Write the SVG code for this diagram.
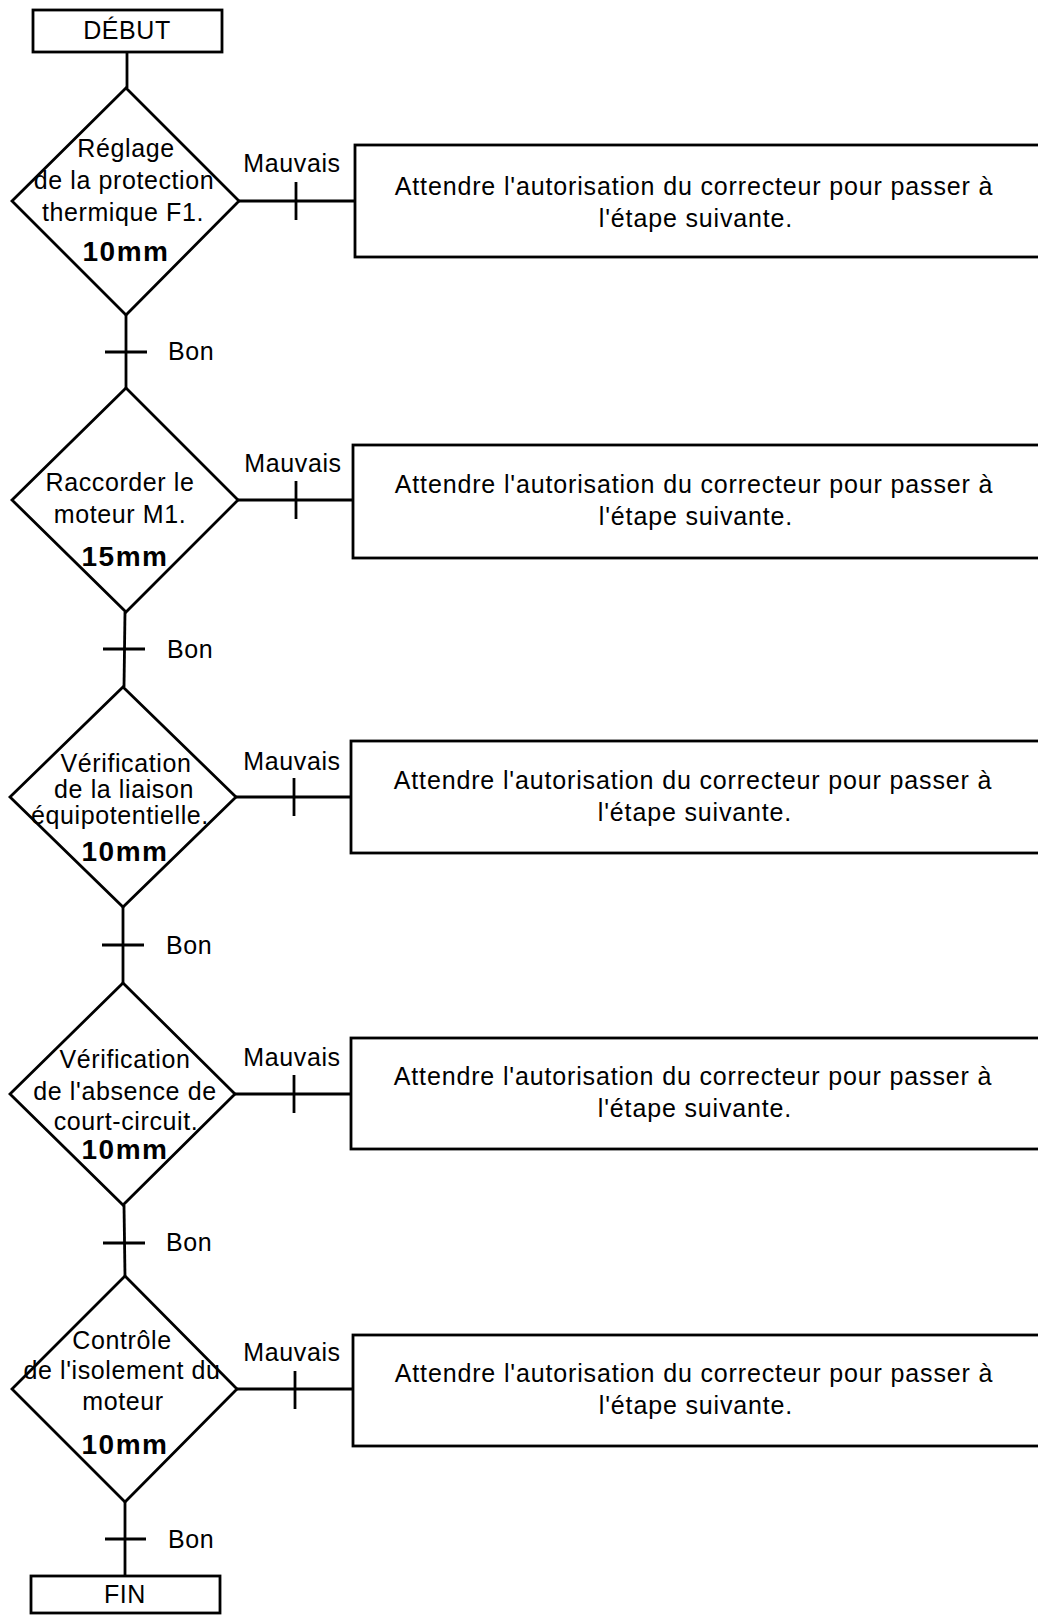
<svg xmlns="http://www.w3.org/2000/svg" width="1038" height="1615" viewBox="0 0 1038 1615">
<style>
.shape{fill:#fff;stroke:#000;stroke-width:2.8}
.ln{fill:none;stroke:#000;stroke-width:2.8}
text{font-family:"Liberation Sans",Arial,Helvetica,sans-serif;font-size:25px;fill:#000;letter-spacing:0.6px}
.c{text-anchor:middle}
.bx{letter-spacing:0.85px}
.mm{font-weight:bold;font-size:28px;letter-spacing:1.5px}
</style>
<rect width="1038" height="1615" fill="#fff"/>
<g id="connectors">
<line class="ln" x1="127" y1="52" x2="127" y2="88"/>
<line class="ln" x1="126" y1="315" x2="126" y2="388"/>
<line class="ln" x1="125" y1="612" x2="124" y2="687"/>
<line class="ln" x1="123" y1="907" x2="123" y2="983"/>
<line class="ln" x1="124" y1="1205" x2="125" y2="1276"/>
<line class="ln" x1="125" y1="1502" x2="125" y2="1576"/>
<line class="ln" x1="105" y1="352" x2="147" y2="352"/>
<line class="ln" x1="103" y1="649" x2="145" y2="649"/>
<line class="ln" x1="102" y1="945" x2="144" y2="945"/>
<line class="ln" x1="103" y1="1243" x2="145" y2="1243"/>
<line class="ln" x1="105" y1="1539" x2="146" y2="1539"/>
<text x="168" y="360">Bon</text>
<text x="167" y="658">Bon</text>
<text x="166" y="954">Bon</text>
<text x="166" y="1251">Bon</text>
<text x="168" y="1548">Bon</text>
<line class="ln" x1="239" y1="201" x2="355" y2="201"/>
<line class="ln" x1="238" y1="500" x2="353" y2="500"/>
<line class="ln" x1="236" y1="797" x2="351" y2="797"/>
<line class="ln" x1="235" y1="1094" x2="351" y2="1094"/>
<line class="ln" x1="237" y1="1389" x2="353" y2="1389"/>
<line class="ln" x1="296" y1="182" x2="296" y2="220"/>
<line class="ln" x1="296" y1="481" x2="296" y2="519"/>
<line class="ln" x1="294" y1="778" x2="294" y2="816"/>
<line class="ln" x1="294" y1="1075" x2="294" y2="1113"/>
<line class="ln" x1="295" y1="1371" x2="295" y2="1409"/>
<text class="c" x="292" y="172">Mauvais</text>
<text class="c" x="293" y="472">Mauvais</text>
<text class="c" x="292" y="770">Mauvais</text>
<text class="c" x="292" y="1066">Mauvais</text>
<text class="c" x="292" y="1361">Mauvais</text>
</g>
<g id="debut">
<rect class="shape" x="33" y="10" width="189" height="42"/>
<text class="c" x="127" y="39">DÉBUT</text>
</g>
<g id="d1">
<polygon class="shape" points="126,88 239,201 126,315 12,201"/>
<text class="c" x="126" y="157">Réglage</text>
<text class="c" x="124" y="189">de la protection</text>
<text class="c" x="123" y="221">thermique F1.</text>
<text class="c mm" x="126" y="261">10mm</text>
</g>
<g id="box1">
<rect class="shape" x="355" y="145" width="700" height="112"/>
<text class="c bx" x="694" y="195">Attendre l'autorisation du correcteur pour passer à</text>
<text class="c bx" x="696" y="227">l'étape suivante.</text>
</g>
<g id="d2">
<polygon class="shape" points="126,388 238,500 126,612 12,500"/>
<text class="c" x="120" y="491">Raccorder le</text>
<text class="c" x="120" y="523">moteur M1.</text>
<text class="c mm" x="125" y="566">15mm</text>
</g>
<g id="box2">
<rect class="shape" x="353" y="445" width="700" height="113"/>
<text class="c bx" x="694" y="493">Attendre l'autorisation du correcteur pour passer à</text>
<text class="c bx" x="696" y="525">l'étape suivante.</text>
</g>
<g id="d3">
<polygon class="shape" points="123,687 236,797 123,907 10,797"/>
<text class="c" x="126" y="772">Vérification</text>
<text class="c" x="124" y="798">de la liaison</text>
<text class="c" x="120" y="824">équipotentielle.</text>
<text class="c mm" x="125" y="861">10mm</text>
</g>
<g id="box3">
<rect class="shape" x="351" y="741" width="700" height="112"/>
<text class="c bx" x="693" y="789">Attendre l'autorisation du correcteur pour passer à</text>
<text class="c bx" x="695" y="821">l'étape suivante.</text>
</g>
<g id="d4">
<polygon class="shape" points="123,983 235,1094 123,1205 10,1094"/>
<text class="c" x="125" y="1068">Vérification</text>
<text class="c" x="125" y="1100">de l'absence de</text>
<text class="c" x="126" y="1130">court-circuit.</text>
<text class="c mm" x="125" y="1159">10mm</text>
</g>
<g id="box4">
<rect class="shape" x="351" y="1038" width="700" height="111"/>
<text class="c bx" x="693" y="1085">Attendre l'autorisation du correcteur pour passer à</text>
<text class="c bx" x="695" y="1117">l'étape suivante.</text>
</g>
<g id="d5">
<polygon class="shape" points="125,1276 237,1389 125,1502 12,1389"/>
<text class="c" x="122" y="1349">Contrôle</text>
<text class="c" x="122" y="1379">de l'isolement du</text>
<text class="c" x="123" y="1410">moteur</text>
<text class="c mm" x="125" y="1454">10mm</text>
</g>
<g id="box5">
<rect class="shape" x="353" y="1335" width="700" height="111"/>
<text class="c bx" x="694" y="1382">Attendre l'autorisation du correcteur pour passer à</text>
<text class="c bx" x="696" y="1414">l'étape suivante.</text>
</g>
<g id="fin">
<rect class="shape" x="31" y="1576" width="189" height="37"/>
<text class="c" x="125" y="1603">FIN</text>
</g>
</svg>
